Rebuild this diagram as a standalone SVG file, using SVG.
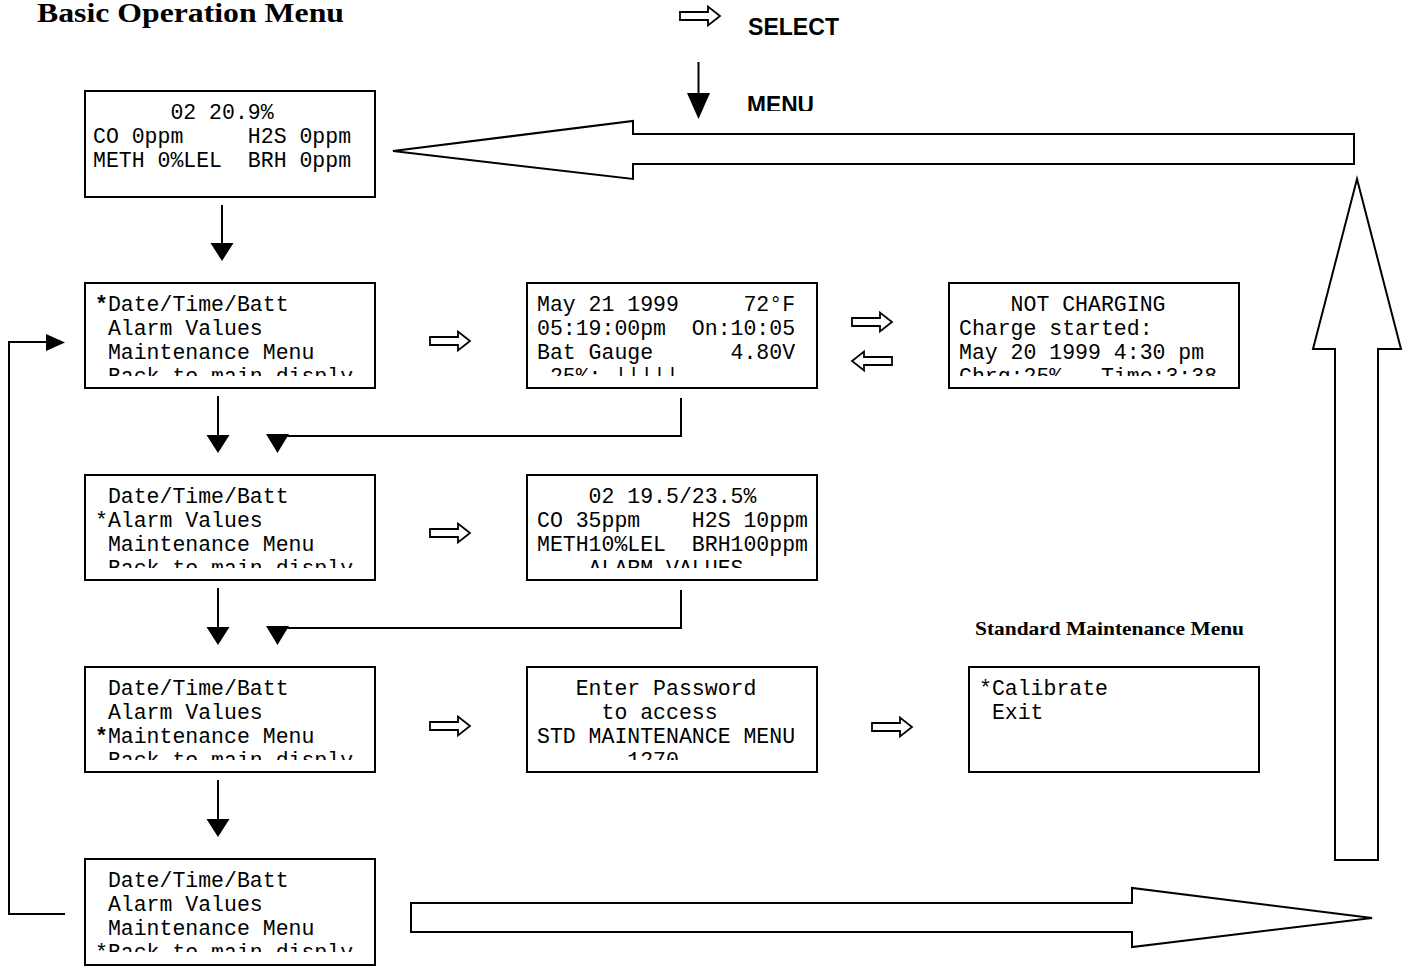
<svg xmlns="http://www.w3.org/2000/svg" width="1408" height="967" viewBox="0 0 1408 967">
<style>
.box{fill:#fff;stroke:#000;stroke-width:2}
.mono{font-family:"Liberation Mono","Courier New",monospace;font-size:21.5px;fill:#000;white-space:pre}
.ln{fill:none;stroke:#000;stroke-width:2}
.hd{fill:#000;stroke:none}
.blk{fill:#fff;stroke:#000;stroke-width:2;stroke-linejoin:miter}
.sm{fill:#fff;stroke:#000;stroke-width:1.8}
.ttl{font-family:"Liberation Serif","Times New Roman",serif;font-weight:bold;fill:#000}
.lbl{font-family:"Liberation Sans",Arial,sans-serif;font-weight:bold;font-size:23px;fill:#000}
</style>
<defs>
<path id="sa" d="M0,-4 H28 V-9.5 L40,0 L28,9.5 V4 H0 Z"/>
<clipPath id="c0"><rect x="85" y="91" width="290" height="94"/></clipPath>
<clipPath id="c1"><rect x="85" y="283" width="290" height="93"/></clipPath>
<clipPath id="c2"><rect x="85" y="475" width="290" height="93"/></clipPath>
<clipPath id="c3"><rect x="85" y="667" width="290" height="93"/></clipPath>
<clipPath id="c4"><rect x="85" y="859" width="290" height="93"/></clipPath>
<clipPath id="m1"><rect x="527" y="283" width="290" height="93"/></clipPath>
<clipPath id="m2"><rect x="527" y="475" width="290" height="93"/></clipPath>
<clipPath id="m3"><rect x="527" y="667" width="290" height="93"/></clipPath>
<clipPath id="n1"><rect x="949" y="283" width="290" height="93"/></clipPath>
<clipPath id="menuclip"><rect x="700" y="80" width="200" height="31"/></clipPath>
</defs>

<g id="titles">
<text class="ttl" x="37" y="22" font-size="27" textLength="307" lengthAdjust="spacingAndGlyphs">Basic Operation Menu</text>
<text class="ttl" x="975" y="635" font-size="19" textLength="269" lengthAdjust="spacingAndGlyphs">Standard Maintenance Menu</text>
<text class="lbl" x="748" y="35" textLength="91" lengthAdjust="spacingAndGlyphs">SELECT</text>
<text class="lbl" x="747" y="113" clip-path="url(#menuclip)" textLength="67" lengthAdjust="spacingAndGlyphs">MENU</text>
</g>

<g id="legend">
<use href="#sa" class="sm" transform="translate(680,16)"/>
<line class="ln" x1="698.5" y1="62" x2="698.5" y2="95"/>
<polygon class="hd" points="687,93 710,93 698.5,119"/>
</g>

<g id="main-display">
<rect class="box" x="85" y="91" width="290" height="106"/>
<g clip-path="url(#c0)">
<text class="mono" x="93" y="119" xml:space="preserve">      02 20.9%</text>
<text class="mono" x="93" y="143" xml:space="preserve">CO 0ppm     H2S 0ppm</text>
<text class="mono" x="93" y="167" xml:space="preserve">METH 0%LEL  BRH 0ppm</text>
</g>
</g>

<g id="menu-datetime">
<rect class="box" x="85" y="283" width="290" height="105"/>
<g clip-path="url(#c1)">
<text class="mono" x="95" y="311" xml:space="preserve"><tspan font-weight="bold">*</tspan>Date/Time/Batt</text>
<text class="mono" x="95" y="335" xml:space="preserve"> Alarm Values</text>
<text class="mono" x="95" y="359" xml:space="preserve"> Maintenance Menu</text>
<text class="mono" x="95" y="383" xml:space="preserve"> Back to main disply</text>
</g>
</g>

<g id="menu-alarm">
<rect class="box" x="85" y="475" width="290" height="105"/>
<g clip-path="url(#c2)">
<text class="mono" x="95" y="503" xml:space="preserve"> Date/Time/Batt</text>
<text class="mono" x="95" y="527" xml:space="preserve">*Alarm Values</text>
<text class="mono" x="95" y="551" xml:space="preserve"> Maintenance Menu</text>
<text class="mono" x="95" y="575" xml:space="preserve"> Back to main disply</text>
</g>
</g>

<g id="menu-maint">
<rect class="box" x="85" y="667" width="290" height="105"/>
<g clip-path="url(#c3)">
<text class="mono" x="95" y="695" xml:space="preserve"> Date/Time/Batt</text>
<text class="mono" x="95" y="719" xml:space="preserve"> Alarm Values</text>
<text class="mono" x="95" y="743" xml:space="preserve"><tspan font-weight="bold">*</tspan>Maintenance Menu</text>
<text class="mono" x="95" y="767" xml:space="preserve"> Back to main disply</text>
</g>
</g>

<g id="menu-back">
<rect class="box" x="85" y="859" width="290" height="106"/>
<g clip-path="url(#c4)">
<text class="mono" x="95" y="887" xml:space="preserve"> Date/Time/Batt</text>
<text class="mono" x="95" y="911" xml:space="preserve"> Alarm Values</text>
<text class="mono" x="95" y="935" xml:space="preserve"> Maintenance Menu</text>
<text class="mono" x="95" y="959" xml:space="preserve">*Back to main disply</text>
</g>
</g>

<g id="datetime-display">
<rect class="box" x="527" y="283" width="290" height="105"/>
<g clip-path="url(#m1)">
<text class="mono" x="537" y="311" xml:space="preserve">May 21 1999     72°F</text>
<text class="mono" x="537" y="335" xml:space="preserve">05:19:00pm  On:10:05</text>
<text class="mono" x="537" y="359" xml:space="preserve">Bat Gauge      4.80V</text>
<text class="mono" x="537" y="383" xml:space="preserve"> 25%: |||||</text>
</g>
</g>

<g id="charging-display">
<rect class="box" x="949" y="283" width="290" height="105"/>
<g clip-path="url(#n1)">
<text class="mono" x="959" y="311" xml:space="preserve">    NOT CHARGING</text>
<text class="mono" x="959" y="335" xml:space="preserve">Charge started:</text>
<text class="mono" x="959" y="359" xml:space="preserve">May 20 1999 4:30 pm</text>
<text class="mono" x="959" y="383" xml:space="preserve">Chrg:25%   Time:3:38</text>
</g>
</g>

<g id="alarm-display">
<rect class="box" x="527" y="475" width="290" height="105"/>
<g clip-path="url(#m2)">
<text class="mono" x="537" y="503" xml:space="preserve">    02 19.5/23.5%</text>
<text class="mono" x="537" y="527" xml:space="preserve">CO 35ppm    H2S 10ppm</text>
<text class="mono" x="537" y="551" xml:space="preserve">METH10%LEL  BRH100ppm</text>
<text class="mono" x="537" y="575" xml:space="preserve">    ALARM VALUES</text>
</g>
</g>

<g id="password-display">
<rect class="box" x="527" y="667" width="290" height="105"/>
<g clip-path="url(#m3)">
<text class="mono" x="537" y="695" xml:space="preserve">   Enter Password</text>
<text class="mono" x="537" y="719" xml:space="preserve">     to access</text>
<text class="mono" x="537" y="743" xml:space="preserve">STD MAINTENANCE MENU</text>
<text class="mono" x="537" y="767" xml:space="preserve">       1270</text>
</g>
</g>

<g id="std-maint-menu">
<rect class="box" x="969" y="667" width="290" height="105"/>
<text class="mono" x="979" y="695" xml:space="preserve">*Calibrate</text>
<text class="mono" x="979" y="719" xml:space="preserve"> Exit</text>
</g>

<g id="connectors">
<line class="ln" x1="222" y1="205" x2="222" y2="245"/>
<polygon class="hd" points="210.5,243 233.5,243 222,261"/>
<line class="ln" x1="218" y1="396" x2="218" y2="437"/>
<polygon class="hd" points="206.5,435 229.5,435 218,453"/>
<line class="ln" x1="218" y1="588" x2="218" y2="629"/>
<polygon class="hd" points="206.5,627 229.5,627 218,645"/>
<line class="ln" x1="218" y1="780" x2="218" y2="821"/>
<polygon class="hd" points="206.5,819 229.5,819 218,837"/>
<path class="ln" d="M681,398 V436 H277.5 V448"/>
<polygon class="hd" points="266,434 289,434 277.5,453"/>
<path class="ln" d="M681,590 V628 H277.5 V640"/>
<polygon class="hd" points="266,626 289,626 277.5,645"/>
<path class="ln" d="M65,914 H9 V342 H48"/>
<polygon class="hd" points="46,334 46,351 65,342.5"/>
<use href="#sa" class="sm" transform="translate(430,341)"/>
<use href="#sa" class="sm" transform="translate(852,322)"/>
<use href="#sa" class="sm" transform="translate(892,361) scale(-1,1)"/>
<use href="#sa" class="sm" transform="translate(430,533)"/>
<use href="#sa" class="sm" transform="translate(430,726)"/>
<use href="#sa" class="sm" transform="translate(872,727)"/>
<polygon class="blk" points="1354,134 633,134 633,121 393,151 633,179 633,164 1354,164"/>
<polygon class="blk" points="1335,860 1335,349 1313,349 1357,179 1401,349 1378,349 1378,860"/>
<polygon class="blk" points="411,903 1132,903 1132,888 1372,918 1132,947 1132,932 411,932"/>
</g>
</svg>
